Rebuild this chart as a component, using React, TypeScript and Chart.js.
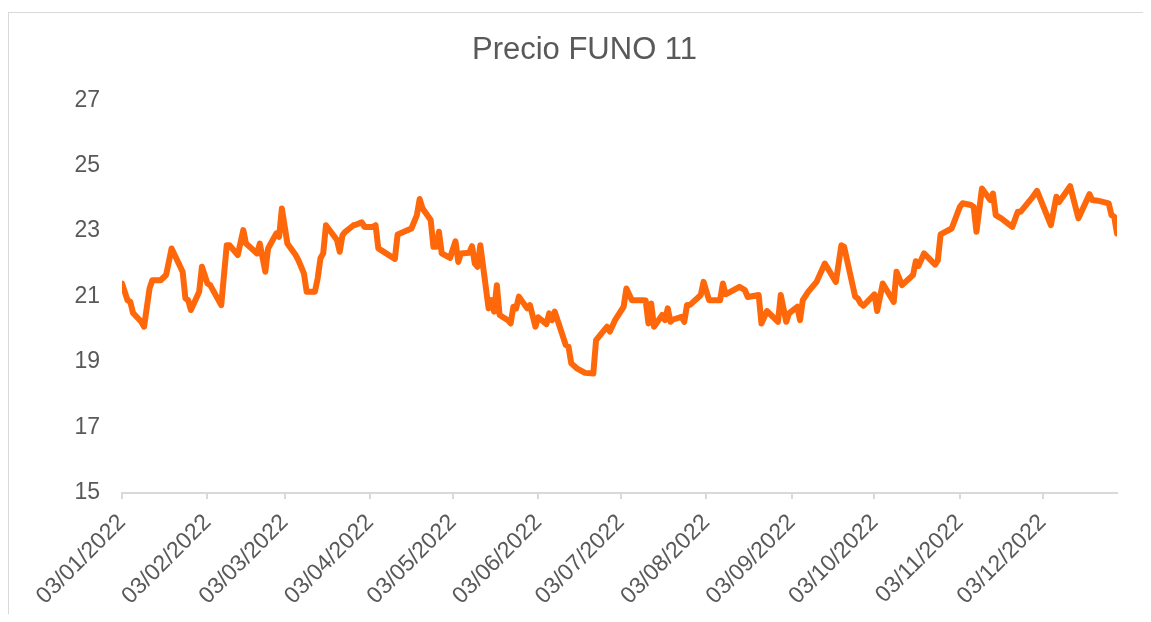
import React, { useEffect, useRef } from "react";
import { Chart, registerables } from "chart.js";

Chart.register(...registerables);

const YEAR = 2022;

const tickLabels = [
  "03/01/2022", "03/02/2022", "03/03/2022", "03/04/2022", "03/05/2022", "03/06/2022",
  "03/07/2022", "03/08/2022", "03/09/2022", "03/10/2022", "03/11/2022", "03/12/2022",
];

const dates = [
  "03/01", "05/01", "06/01", "07/01", "10/01", "11/01", "13/01", "14/01", "17/01", "19/01",
  "21/01", "25/01", "26/01", "27/01", "28/01", "31/01",
  "01/02", "03/02", "04/02", "08/02", "10/02", "11/02", "14/02", "16/02", "17/02", "21/02",
  "22/02", "24/02", "25/02", "28/02",
  "01/03", "02/03", "04/03", "07/03", "08/03", "10/03", "11/03", "14/03", "15/03", "16/03",
  "17/03", "18/03", "22/03", "23/03", "24/03", "25/03", "28/03", "29/03", "31/03",
  "01/04", "04/04", "05/04", "06/04", "07/04", "12/04", "13/04", "18/04", "20/04", "21/04",
  "22/04", "25/04", "26/04", "27/04", "28/04", "29/04",
  "02/05", "04/05", "05/05", "06/05", "09/05", "10/05", "11/05", "12/05", "13/05", "16/05",
  "17/05", "18/05", "19/05", "20/05", "23/05", "24/05", "25/05", "26/05", "27/05", "30/05", "31/05",
  "02/06", "03/06", "06/06", "07/06", "08/06", "09/06", "13/06", "14/06", "15/06", "17/06",
  "20/06", "23/06", "24/06", "28/06", "29/06",
  "01/07", "04/07", "05/07", "07/07", "11/07", "12/07", "13/07", "14/07", "15/07", "18/07",
  "19/07", "20/07", "21/07", "22/07", "25/07", "26/07", "27/07", "28/07",
  "01/08", "02/08", "04/08", "08/08", "09/08", "10/08", "15/08", "17/08", "18/08", "22/08",
  "23/08", "25/08", "29/08", "30/08",
  "01/09", "02/09", "05/09", "06/09", "07/09", "09/09", "12/09", "15/09", "19/09", "21/09",
  "22/09", "26/09", "27/09", "28/09", "29/09",
  "03/10", "04/10", "06/10", "10/10", "11/10", "13/10", "17/10", "18/10", "19/10", "21/10",
  "25/10", "26/10", "27/10", "31/10",
  "03/11", "04/11", "07/11", "08/11", "09/11", "11/11", "14/11", "15/11", "16/11", "18/11",
  "22/11", "24/11", "25/11", "29/11",
  "01/12", "06/12", "08/12", "09/12", "13/12", "16/12", "20/12", "21/12", "23/12", "27/12",
  "28/12", "29/12", "30/12",
];

const prices = [
  21.40, 20.89, 20.84, 20.50, 20.23, 20.08, 21.25, 21.50, 21.50, 21.66,
  22.47, 21.76, 20.95, 20.89, 20.59, 21.15,
  21.91, 21.40, 21.35, 20.74, 22.57, 22.57, 22.27, 23.03, 22.62, 22.32,
  22.62, 21.76, 22.47, 22.93,
  22.83, 23.69, 22.62, 22.27, 22.11, 21.71, 21.15, 21.15, 21.56, 22.17,
  22.32, 23.18, 22.73, 22.37, 22.88, 22.98, 23.18, 23.20, 23.27,
  23.13, 23.13, 23.18, 22.47, 22.42, 22.15, 22.90, 23.08, 23.49, 23.98,
  23.70, 23.34, 22.52, 22.52, 22.98, 22.32,
  22.18, 22.69, 22.06, 22.32, 22.34, 22.54, 22.01, 21.91, 22.57, 20.64,
  20.89, 20.54, 21.35, 20.44, 20.28, 20.18, 20.69, 20.64, 21.00, 20.64, 20.74,
  20.08, 20.37, 20.16, 20.49, 20.28, 20.54, 19.52, 19.47, 18.96, 18.81,
  18.67, 18.65, 19.67, 20.08, 19.93,
  20.30, 20.69, 21.25, 20.89, 20.89, 20.88, 20.18, 20.79, 20.08, 20.44,
  20.28, 20.64, 20.23, 20.30, 20.38, 20.23, 20.74, 20.74,
  21.05, 21.45, 20.89, 20.89, 21.40, 21.07, 21.30, 21.20, 20.99, 21.05,
  20.18, 20.56, 20.23, 21.05,
  20.23, 20.49, 20.69, 20.28, 20.89, 21.15, 21.45, 22.01, 21.45, 22.57,
  22.52, 21.00, 20.94, 20.79, 20.72,
  21.07, 20.56, 21.40, 20.84, 21.76, 21.35, 21.66, 22.08, 21.94, 22.32,
  21.98, 22.11, 22.90, 23.08,
  23.74, 23.85, 23.80, 23.74, 22.98, 24.30, 23.95, 24.15, 23.49, 23.39,
  23.13, 23.59, 23.59, 24.00,
  24.23, 23.18, 24.05, 23.89, 24.37, 23.39, 24.13, 23.95, 23.93, 23.85,
  23.49, 23.44, 22.93,
];

const START = Date.UTC(YEAR, 0, 3);
const END_DATE = "30/12";

function dayOffset(ddmm: string): number {
  const [d, m] = ddmm.split("/").map(Number);
  return Math.round((Date.UTC(YEAR, m - 1, d) - START) / 86400000);
}

export default function App() {
  const ref = useRef<HTMLCanvasElement>(null);

  useEffect(() => {
    if (!ref.current) return;
    const font = "'Liberation Sans', Arial, sans-serif";
    Chart.defaults.font.family = font;
    const tickDays = tickLabels.map((t) => dayOffset(t.slice(0, 5)));
    const points = dates.map((d, i) => ({ x: dayOffset(d), y: prices[i] }));

    const chart = new Chart(ref.current, {
      type: "line",
      data: {
        datasets: [
          {
            label: "Precio FUNO 11",
            data: points,
            borderColor: "#FF680A",
            backgroundColor: "#FF680A",
            borderWidth: 6,
            pointRadius: 0,
            tension: 0,
            borderJoinStyle: "round",
            borderCapStyle: "round",
          },
        ],
      },
      options: {
        animation: false,
        responsive: false,
        layout: { padding: { left: 44, right: 34, top: 0, bottom: 0 } },
        plugins: {
          legend: { display: false },
          tooltip: { enabled: false },
          title: {
            display: true,
            text: "Precio FUNO 11",
            color: "#595959",
            font: { size: 31, weight: "normal", family: font },
            padding: { top: 24, bottom: 31 },
          },
        },
        scales: {
          x: {
            type: "linear",
            min: 0,
            max: dayOffset(END_DATE),
            afterFit: (s: any) => {
              s.height = 121;
            },
            afterBuildTicks: (s: any) => {
              s.ticks = tickDays.map((v) => ({ value: v }));
            },
            ticks: {
              autoSkip: false,
              minRotation: 45,
              maxRotation: 45,
              padding: 10,
              color: "#595959",
              font: { size: 23, family: font },
              callback: (_v: any, i: number) => tickLabels[i],
            },
            grid: {
              display: true,
              drawOnChartArea: false,
              drawTicks: true,
              tickLength: 6,
              color: "#d9d9d9",
              lineWidth: 2,
            },
            border: { display: true, color: "#d9d9d9", width: 2 },
          },
          y: {
            min: 15,
            max: 27,
            afterFit: (s: any) => {
              s.width = 70;
            },
            ticks: {
              stepSize: 2,
              padding: 22,
              color: "#595959",
              font: { size: 23, family: font },
            },
            grid: { display: false, drawTicks: false },
            border: { display: false },
          },
        },
      },
    });
    return () => chart.destroy();
  }, []);

  return (
    <div style={{ position: "relative", width: 1143, height: 606, overflow: "hidden" }}>
      <div
        style={{
          position: "absolute",
          left: 0,
          top: 4,
          width: 1250,
          height: 700,
          border: "1.5px solid #d9d9d9",
          boxSizing: "border-box",
        }}
      />
      <canvas
        ref={ref}
        width={1143}
        height={606}
        style={{ position: "absolute", left: 0, top: 0, width: 1143, height: 606 }}
      />
    </div>
  );
}
